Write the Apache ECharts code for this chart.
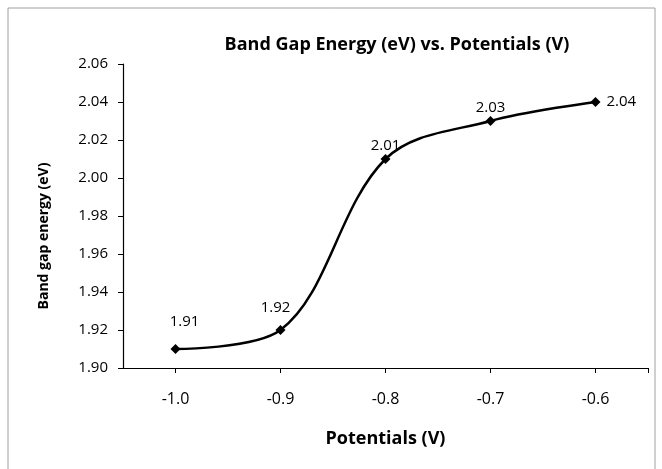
<!DOCTYPE html>
<html>
<head>
<meta charset="utf-8">
<script src="https://cdn.jsdelivr.net/npm/echarts@6/dist/echarts.min.js"></script>
<style>html,body{margin:0;padding:0;background:#fff}#c{width:662px;height:469px}</style>
</head>
<body>
<div id="c"></div>
<script>
const potentials = [-1.0, -0.9, -0.8, -0.7, -0.6];
const bandGap = [1.91, 1.92, 2.01, 2.03, 2.04];
const xTickLabels = [-1.0, -0.9, -0.8, -0.7, -0.6];
const yTickLabels = [1.90, 1.92, 1.94, 1.96, 1.98, 2.00, 2.02, 2.04, 2.06];

const FONT = '"Open Sans", "Noto Sans", sans-serif';
const labelOffsets = [[9, -5], [-5, 0], [0, 9], [0, 9], [0, 0]];

const chart = echarts.init(document.getElementById('c'), null, {renderer: 'canvas'});
const seriesData = potentials.map((x, i) => ({
  value: [x, bandGap[i]],
  label: i === potentials.length - 1
    ? {position: 'right', distance: 6}
    : {position: 'top', distance: 10, offset: labelOffsets[i]}
}));

chart.setOption({
  animation: false,
  title: {
    text: 'Band Gap Energy (eV) vs. Potentials (V)',
    left: 392, top: 31, textAlign: 'center',
    textStyle: {fontFamily: FONT, fontSize: 18, fontWeight: 'bold', color: '#000'}
  },
  graphic: [{
    type: 'rect', shape: {x: 8, y: 8, width: 647, height: 470},
    style: {fill: 'none', stroke: '#a0a0a0', lineWidth: 1}
  }],
  grid: {left: 123, right: 14, top: 64, bottom: 101, containLabel: false},
  xAxis: {
    type: 'value', min: -1.05, max: -0.55,
    name: 'Potentials (V)', nameLocation: 'middle', nameGap: 62,
    nameTextStyle: {fontFamily: FONT, fontSize: 18, fontWeight: 'bold', color: '#000'},
    axisLine: {show: true, onZero: false, lineStyle: {color: '#000', width: 1.2}},
    axisTick: {show: true, length: 5, inside: false, customValues: xTickLabels.concat([-0.55]), lineStyle: {color: '#000'}},
    axisLabel: {customValues: xTickLabels, margin: 23, fontFamily: FONT, fontSize: 16, color: '#000',
      formatter: v => v.toFixed(1)},
    splitLine: {show: false}
  },
  yAxis: {
    type: 'value', min: 1.90, max: 2.06, interval: 0.02,
    name: 'Band gap energy (eV)', nameLocation: 'middle', nameGap: 72, nameRotate: 90,
    nameTextStyle: {fontFamily: FONT, fontSize: 14, fontWeight: 'bold', color: '#000', padding: [0, 0, 0, -40]},
    axisLine: {show: true, lineStyle: {color: '#000', width: 1.2}},
    axisTick: {show: true, length: 5, lineStyle: {color: '#000'}},
    axisLabel: {margin: 15, fontFamily: FONT, fontSize: 15, color: '#000',
      formatter: v => v.toFixed(2)},
    splitLine: {show: false}
  },
  series: [{
    type: 'line', smooth: 0.35,
    data: seriesData,
    symbol: 'diamond', symbolSize: 10,
    lineStyle: {color: '#000', width: 2.5},
    itemStyle: {color: '#000'},
    label: {show: true, fontFamily: FONT, fontSize: 15, color: '#000',
      formatter: p => p.value[1].toFixed(2)}
  }]
});
</script>
</body>
</html>
